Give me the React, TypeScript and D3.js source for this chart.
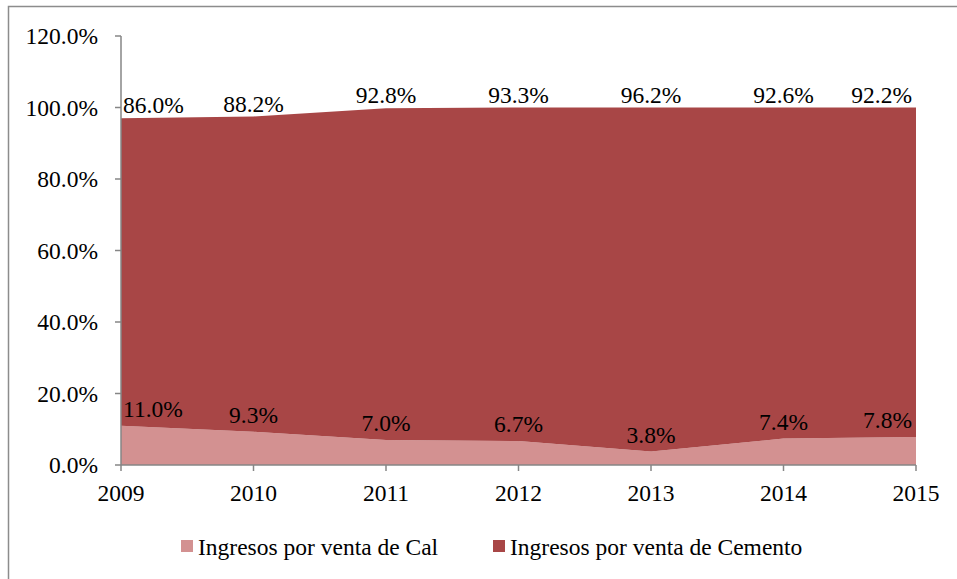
import React, { useEffect, useRef } from 'react'
import * as d3 from 'd3'

const years = ['2009', '2010', '2011', '2012', '2013', '2014', '2015']
const calValues = [11.0, 9.3, 7.0, 6.7, 3.8, 7.4, 7.8]
const cementoValues = [86.0, 88.2, 92.8, 93.3, 96.2, 92.6, 92.2]
const yTicks = [0, 20, 40, 60, 80, 100, 120]
const seriesNames = ['Ingresos por venta de Cal', 'Ingresos por venta de Cemento']
const seriesColors = ['#d39191', '#a84646']

function App () {
  const ref = useRef<SVGSVGElement>(null)

  useEffect(() => {
    const svg = d3.select(ref.current)
    svg.selectAll('*').remove()

    const font = 'Times New Roman, Liberation Serif, DejaVu Serif, serif'
    const fs = 23.5

    // outer frame (runs past the right and bottom edges, as in the source)
    svg.append('rect')
      .attr('x', 8.5).attr('y', 6.5)
      .attr('width', 960).attr('height', 590)
      .attr('fill', '#fff')
      .attr('stroke', '#8c8c8c')
      .attr('stroke-width', 1.5)

    const x = d3.scalePoint<string>().domain(years).range([121, 916])
    const y = d3.scaleLinear().domain([0, 120]).range([465, 36])

    const rows = years.map((yr, i) => ({ year: yr, cal: calValues[i], cemento: cementoValues[i] }))
    const stack = d3.stack<any>().keys(['cal', 'cemento'])
    const layers = stack(rows)

    const area = d3.area<any>()
      .x(d => x(d.data.year) as number)
      .y0(d => y(d[0]))
      .y1(d => y(d[1]))

    svg.append('g')
      .selectAll('path')
      .data(layers)
      .enter()
      .append('path')
      .attr('d', d => area(d) as string)
      .attr('fill', (d, i) => seriesColors[i])

    // y axis
    const axisColor = '#868686'
    svg.append('line')
      .attr('x1', 121).attr('x2', 121)
      .attr('y1', y(120)).attr('y2', y(0))
      .attr('stroke', axisColor).attr('stroke-width', 1.5)
    const yg = svg.append('g')
    yTicks.forEach(t => {
      yg.append('line')
        .attr('x1', 115).attr('x2', 121)
        .attr('y1', y(t)).attr('y2', y(t))
        .attr('stroke', axisColor).attr('stroke-width', 1.5)
      yg.append('text')
        .attr('x', 98).attr('y', y(t))
        .attr('dy', '0.35em')
        .attr('text-anchor', 'end')
        .attr('font-family', font).attr('font-size', fs)
        .text(t.toFixed(1) + '%')
    })

    // x axis
    svg.append('line')
      .attr('x1', x(years[0]) as number).attr('x2', x(years[years.length - 1]) as number)
      .attr('y1', y(0)).attr('y2', y(0))
      .attr('stroke', axisColor).attr('stroke-width', 1.5)
    const xg = svg.append('g')
    years.forEach(yr => {
      xg.append('line')
        .attr('x1', x(yr) as number).attr('x2', x(yr) as number)
        .attr('y1', y(0)).attr('y2', y(0) + 6)
        .attr('stroke', axisColor).attr('stroke-width', 1.5)
      xg.append('text')
        .attr('x', x(yr) as number).attr('y', 501)
        .attr('text-anchor', 'middle')
        .attr('font-family', font).attr('font-size', fs)
        .text(yr)
    })

    // data labels
    const anchorFor = (i: number) => i === 0 ? 'start' : (i === years.length - 1 ? 'end' : 'middle')
    const dxFor = (i: number) => i === 0 ? 2 : (i === years.length - 1 ? -4 : 0)
    layers.forEach((layer, li) => {
      const off = li === 0 ? 17 : 13
      layer.forEach((d: any, i: number) => {
        svg.append('text')
          .attr('x', (x(d.data.year) as number) + dxFor(i))
          .attr('y', y(d[1]) - off)
          .attr('dy', '0.35em')
          .attr('text-anchor', anchorFor(i))
          .attr('font-family', font).attr('font-size', fs)
          .text((li === 0 ? calValues[i] : cementoValues[i]).toFixed(1) + '%')
      })
    })

    // legend
    const legendX = [181, 493]
    seriesNames.forEach((name, i) => {
      svg.append('rect')
        .attr('x', legendX[i]).attr('y', 540)
        .attr('width', 12).attr('height', 12)
        .attr('fill', seriesColors[i])
      svg.append('text')
        .attr('x', legendX[i] + 17).attr('y', 555)
        .attr('font-family', font).attr('font-size', fs)
        .text(name)
    })
  }, [])

  return (
    <div style={{ position: 'absolute', left: 0, top: 0 }}>
      <svg ref={ref} width={957} height={579} />
    </div>
  )
}

export default App
